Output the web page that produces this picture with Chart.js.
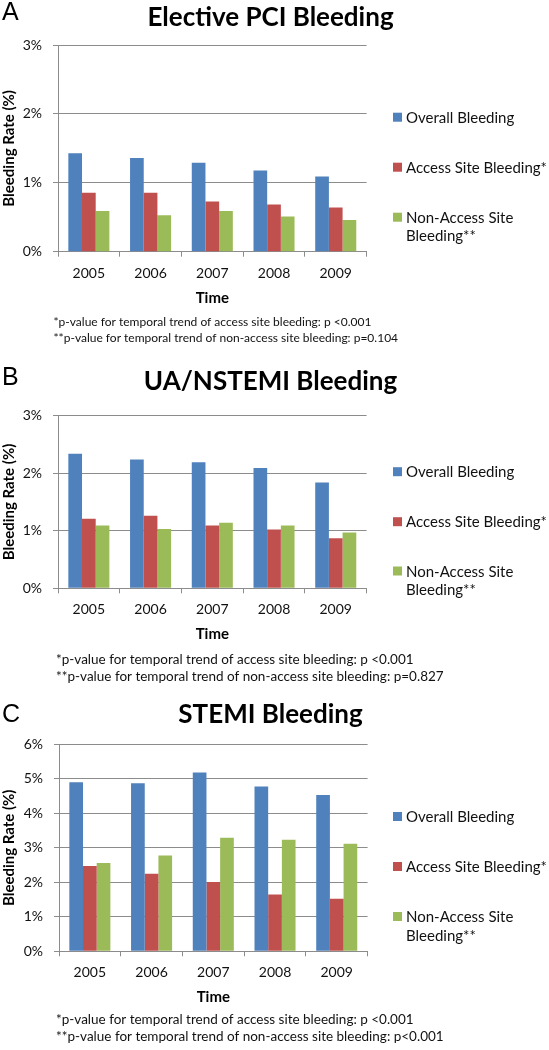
<!DOCTYPE html>
<html>
<head>
<meta charset="utf-8">
<script src="https://cdn.jsdelivr.net/npm/chart.js@4.4.0/dist/chart.umd.min.js"></script>
<style>
html,body{margin:0;padding:0;background:#fff;}
body{width:549px;height:1050px;position:relative;overflow:hidden;}
canvas{position:absolute;left:0;display:block;}
</style>
</head>
<body>
<canvas id="cA"></canvas>
<canvas id="cB"></canvas>
<canvas id="cC"></canvas>
<script>
// ---------- data ----------
const years = ['2005', '2006', '2007', '2008', '2009'];
const seriesNames = ['Overall Bleeding', 'Access Site Bleeding*', 'Non-Access Site Bleeding**'];
const legendLines = [['Overall Bleeding'], ['Access Site Bleeding*'], ['Non-Access Site', 'Bleeding**']];
const seriesColors = ['#4F81BD', '#C0504D', '#9BBB59'];

const electiveOverall   = [1.43, 1.36, 1.29, 1.18, 1.09];
const electiveAccess    = [0.855, 0.855, 0.73, 0.685, 0.64];
const electiveNonAccess = [0.59, 0.53, 0.59, 0.51, 0.46];

const uaOverall   = [2.34, 2.24, 2.19, 2.09, 1.84];
const uaAccess    = [1.21, 1.26, 1.09, 1.02, 0.87];
const uaNonAccess = [1.09, 1.03, 1.14, 1.09, 0.97];

const stemiOverall   = [4.90, 4.87, 5.18, 4.78, 4.53];
const stemiAccess    = [2.47, 2.25, 2.01, 1.65, 1.52];
const stemiNonAccess = [2.56, 2.78, 3.29, 3.23, 3.12];

const yTickLabelsSmall = ['0%', '1%', '2%', '3%'];
const yTickLabelsLarge = ['0%', '1%', '2%', '3%', '4%', '5%', '6%'];

const panelLetters = ['A', 'B', 'C'];
const panelTitles = ['Elective PCI Bleeding', 'UA/NSTEMI Bleeding', 'STEMI Bleeding'];
const footnotesA = ['*p-value for temporal trend of access site bleeding: p <0.001',
                    '**p-value for temporal trend of non-access site bleeding: p=0.104'];
const footnotesB = ['*p-value for temporal trend of access site bleeding: p <0.001',
                    '**p-value for temporal trend of non-access site bleeding: p=0.827'];
const footnotesC = ['*p-value for temporal trend of access site bleeding: p <0.001',
                    '**p-value for temporal trend of non-access site bleeding: p<0.001'];
const xAxisTitle = 'Time';
const yAxisTitle = 'Bleeding Rate (%)';

// ---------- layout (page coordinates) ----------
const layouts = [
  {id:'cA', top:0,   height:350, plotTop:45,    plotBottom:251.7, plotLeft:58, plotRight:366.6,
   titleY:26, letterY:20, legendY:[122.7,172.7,222.7,241.2], footY:[326,341.7], footSize:12, footX:53.5},
  {id:'cB', top:350, height:340, plotTop:415.7, plotBottom:588.3, plotLeft:58, plotRight:366.6,
   titleY:390, letterY:385, legendY:[477.2,527.2,576.5,595], footY:[664,680.7], footSize:13.5, footX:56},
  {id:'cC', top:690, height:360, plotTop:744.3, plotBottom:951.3, plotLeft:59, plotRight:367.6,
   titleY:723.3, letterY:721.5, legendY:[822,872,922,940.5], footY:[1024,1041], footSize:13.5, footX:56}
];

const panels = [
  {values:[electiveOverall, electiveAccess, electiveNonAccess], ticks:yTickLabelsSmall, foot:footnotesA},
  {values:[uaOverall, uaAccess, uaNonAccess], ticks:yTickLabelsSmall, foot:footnotesB},
  {values:[stemiOverall, stemiAccess, stemiNonAccess], ticks:yTickLabelsLarge, foot:footnotesC}
];

const GRID = '#8c8c8c';
const FONT = 'Lato, "Open Sans", sans-serif';
const X_SCALE_H = 55;

// annotation plugin: panel letter, title, legend, footnotes
const annotate = {
  id: 'annotate',
  afterDraw(chart, args, opts) {
    const L = opts.layout, idx = opts.index, off = L.top;
    const ctx = chart.ctx;
    ctx.save();
    ctx.textBaseline = 'alphabetic';
    ctx.fillStyle = '#000';
    // letter
    ctx.textAlign = 'left';
    ctx.font = '25px "Liberation Sans", Arial, sans-serif';
    ctx.fillText(panelLetters[idx], 2, L.letterY - off);
    // title
    ctx.textAlign = 'center';
    ctx.font = 'bold 26px ' + FONT;
    ctx.fillText(panelTitles[idx], 270.5, L.titleY - off);
    // legend from chart's own legend items
    const items = Chart.defaults.plugins.legend.labels.generateLabels(chart);
    ctx.textAlign = 'left';
    ctx.font = '15px ' + FONT;
    items.forEach((it, i) => {
      const y0 = L.legendY[i] - off;
      ctx.fillStyle = it.fillStyle;
      ctx.fillRect(393, y0 - 10, 9, 9);
      ctx.fillStyle = '#111';
      const lines = legendLines[it.datasetIndex];
      lines.forEach((ln, k) => {
        const y = k === 0 ? y0 : L.legendY[i + k] - off;
        ctx.fillText(ln, 406, y);
      });
    });
    // footnotes
    ctx.font = L.footSize + 'px ' + FONT;
    ctx.fillStyle = '#111';
    panels[idx].foot.forEach((f, k) => ctx.fillText(f, L.footX, L.footY[k] - off));
    ctx.restore();
  }
};

layouts.forEach((L, idx) => {
  const P = panels[idx];
  const cv = document.getElementById(L.id);
  cv.width = 549; cv.height = L.height;
  cv.style.top = L.top + 'px';
  cv.style.width = '549px'; cv.style.height = L.height + 'px';
  const yMax = P.ticks.length - 1;
  new Chart(cv, {
    type: 'bar',
    data: {
      labels: years,
      datasets: seriesNames.map((name, i) => ({
        label: name,
        data: P.values[i],
        backgroundColor: seriesColors[i],
        borderWidth: 0,
        categoryPercentage: 0.665,
        barPercentage: 1.0
      }))
    },
    options: {
      responsive: false,
      animation: false,
      devicePixelRatio: 1,
      layout: {padding: {left: 0, right: 549 - L.plotRight, top: L.plotTop - L.top,
                         bottom: L.top + L.height - (L.plotBottom + X_SCALE_H)}},
      plugins: {
        legend: {display: false},
        tooltip: {enabled: false},
        title: {display: false},
        annotate: {layout: L, index: idx}
      },
      scales: {
        x: {
          grid: {offset: true, drawOnChartArea: false, drawTicks: true, tickLength: 5, color: GRID, lineWidth: 1},
          border: {color: GRID, width: 1},
          ticks: {font: {family: FONT, size: 14}, color: '#111', padding: 8, maxRotation: 0, autoSkip: false},
          title: {display: true, text: xAxisTitle, font: {family: FONT, size: 15, weight: 'bold'}, color: '#000', padding: 0},
          afterFit(s) { s.height = X_SCALE_H; }
        },
        y: {
          min: 0, max: yMax,
          grid: {color: GRID, lineWidth: 1, tickLength: 5, drawTicks: true},
          border: {color: GRID, width: 1},
          ticks: {stepSize: 1, font: {family: FONT, size: 14}, color: '#111', padding: 11,
                  callback: (v) => P.ticks[v]},
          title: {display: true, text: yAxisTitle, font: {family: FONT, size: 15, weight: 'bold'}, color: '#000', padding: 0},
          afterFit(s) { s.width = L.plotLeft; }
        }
      }
    },
    plugins: [annotate]
  });
});
</script>
</body>
</html>
